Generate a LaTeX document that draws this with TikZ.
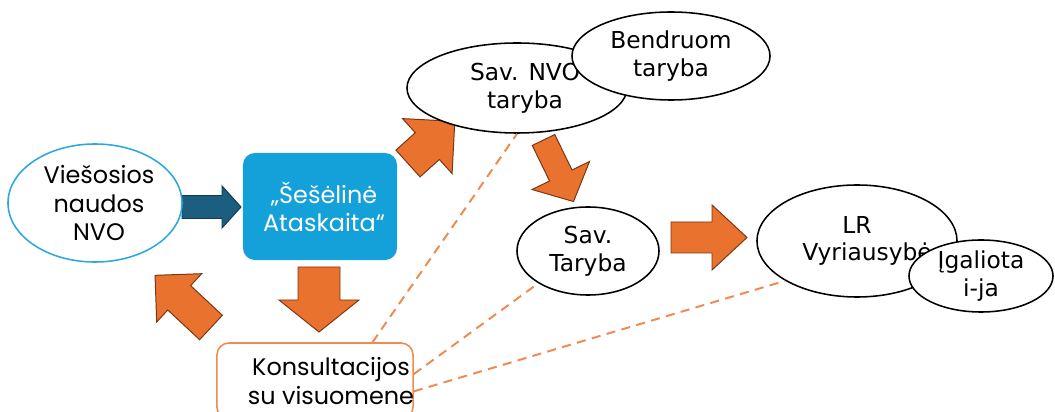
\documentclass[tikz,border=0pt]{standalone}
\usepackage{fontspec}
\setmainfont{DejaVu Sans}
\newfontfamily\geofont{Poppins}
\usepackage{xcolor}
\usetikzlibrary{shapes.geometric,calc}

\definecolor{nvoblue}{HTML}{2AA8DF}
\definecolor{boxblue}{HTML}{14A0D8}
\definecolor{darkarrow}{HTML}{1B5E80}
\definecolor{darkarrowline}{HTML}{0F3A50}
\definecolor{arroworange}{HTML}{E9722F}
\definecolor{arrowline}{HTML}{7A3612}
\definecolor{konsorange}{HTML}{EF8A50}

\newcommand{\ovalfont}{\fontsize{16.6}{19.6}\selectfont}
\newcommand{\geosize}{\geofont\fontsize{17}{20}\selectfont}

\tikzset{
  pics/fatarrow/.style n args={4}{code={
    \path[pic actions] (0,-#1) -- (#3,-#1) -- (#3,-#2) -- (#4,0) -- (#3,#2) -- (#3,#1) -- (0,#1) -- cycle;
  }}
}

\begin{document}
\begin{tikzpicture}[x=0.025cm, y=-0.025cm,
    oval/.style={ellipse, draw=black, fill=white, line width=1.1pt, inner sep=0pt, align=center, font=\ovalfont},
    orangearr/.style={fill=arroworange, draw=arrowline, line width=0.7pt, line join=miter},
    darkarr/.style={fill=darkarrow, draw=darkarrowline, line width=0.7pt, line join=miter},
    consline/.style={draw=konsorange, line width=1.4pt, dash pattern=on 6.5pt off 4.5pt}]
    \useasboundingbox (0,0) rectangle (1055,412);

    % block arrows
    \pic[darkarr] at (182,207) {fatarrow={11.5}{21}{40}{59}};
    \pic[orangearr] at (671,237.5) {fatarrow={15.5}{32.5}{41}{76}};
    \pic[orangearr, rotate=-90] at (319,267) {fatarrow={21}{40}{33}{65}};
    \pic[orangearr, rotate=137] at (211,327.5) {fatarrow={16.7}{33}{43.5}{76.5}};
    \pic[orangearr, rotate=42] at (408,163.5) {fatarrow={18}{37}{26}{63}};
    \pic[orangearr, rotate=-64] at (543.5,140) {fatarrow={12.5}{32}{39.5}{68.5}};

    % nodes
    \node[oval, draw=nvoblue, minimum width=4.35cm, minimum height=2.95cm, font=\geosize] (nvo) at (95,203) {\hspace*{0.2cm}Viešosios\\\hspace*{0.2cm}naudos\\\hspace*{0.2cm}NVO};
    \node[rectangle, rounded corners=0.3cm, fill=boxblue, text=white, minimum width=3.85cm, minimum height=2.675cm, align=center, font=\geosize] (report) at (320,206.5) {\hspace*{0.2cm}„Šešėlinė\\\hspace*{0.2cm}Ataskaita“};
    \node[rectangle, rounded corners=0.3cm, draw=konsorange, line width=1.1pt, fill=white, minimum width=4.9cm, minimum height=1.9cm, align=center, font=\geosize] (kons) at (315,381) {\mbox{\kern0.4cm Konsultacijos\kern-0.4cm}\\\mbox{\kern0.4cm su visuomene\kern-0.4cm}};
    \node[oval, minimum width=5.5cm, minimum height=2.25cm] (savnvo) at (517,88) {\hspace*{0.4cm}Sav. NVO\\\hspace*{0.4cm}taryba};
    \node[oval, minimum width=4.95cm, minimum height=2.2cm] (bendr) at (671,56) {Bendruom\\taryba};
    \node[oval, minimum width=3.55cm, minimum height=2.2cm] (savtar) at (588,251) {Sav.\\Taryba};
    \node[oval, minimum width=5cm, minimum height=2.8cm] (lrv) at (857,241) {LR\\\mbox{\kern0.25cm Vyriausybė\kern-0.25cm}};
    \node[oval, minimum width=3.6cm, minimum height=1.8cm] (igal) at (981,276) {Įgaliota\\i-ja};

    % dashed links
    \draw[consline] (kons.34) -- (savnvo.south);
    \draw[consline] (kons.4) -- (savtar.213);
    \draw[consline] (kons.-6) -- (lrv.209);
\end{tikzpicture}
\end{document}
